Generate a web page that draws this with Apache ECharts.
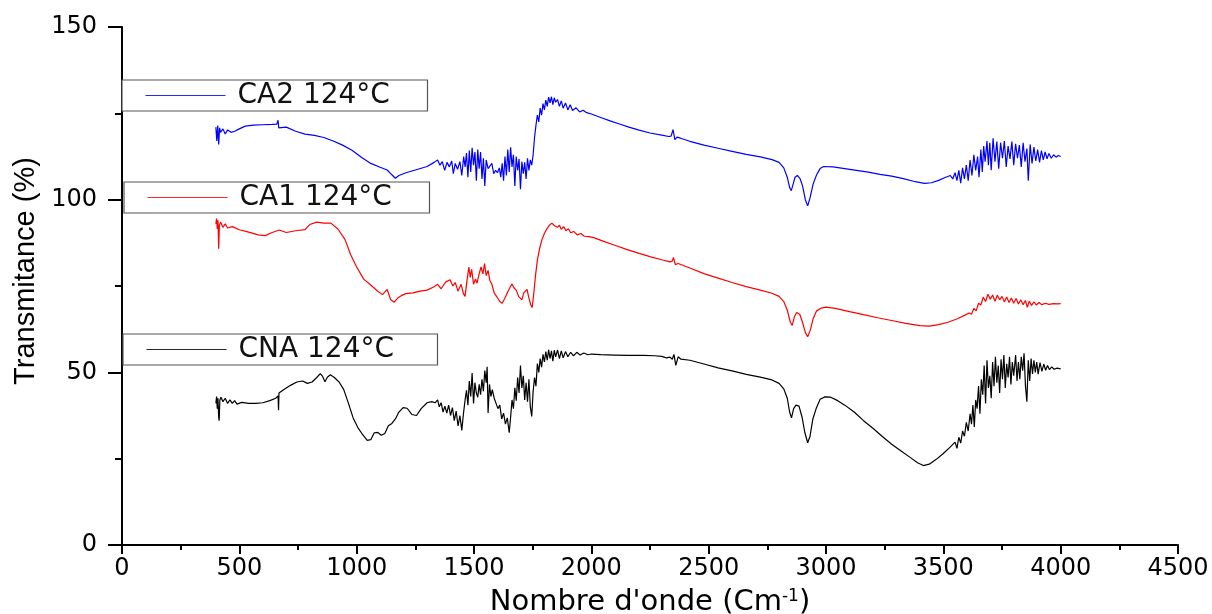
<!DOCTYPE html>
<html>
<head>
<meta charset="utf-8">
<script src="https://cdn.jsdelivr.net/npm/echarts@6/dist/echarts.min.js"></script>
<style>
html,body{margin:0;padding:0;background:#fff;}
#chart{width:1212px;height:614px;}
</style>
</head>
<body>
<div id="chart"></div>
<script>
// ---- data (wavenumber cm-1, transmittance %) ----
const seriesNames = ['CA2 124°C', 'CA1 124°C', 'CNA 124°C'];
const xTicks = [0, 500, 1000, 1500, 2000, 2500, 3000, 3500, 4000, 4500];
const yTicks = [0, 50, 100, 150];

const ca2 = [[400,121],[404,117],[408,121.5],[412,116],[416,120.8],[420,119.5],[430,120.5],[440,119],[450,120.2],[465,119.5],[480,119.8],[500,120.5],[525,121.3],[560,121.6],[600,121.7],[640,121.8],[660,121.9],[665,123],[668,120.8],[700,121],[740,119.8],[780,119],[820,118.6],[860,118],[900,117],[940,115.8],[980,114.3],[1020,112.3],[1060,110.5],[1100,109.4],[1130,108.6],[1150,107.2],[1165,106.2],[1180,107],[1210,107.8],[1250,108.6],[1300,109.6],[1330,110.8],
[1345,111.5],[1355,110],[1365,111],[1375,108.5],[1385,110.8],[1395,109.5],[1405,111.2],[1412,107.5],[1420,110.5],[1430,108.8],[1440,111],[1448,107],[1456,112.5],[1462,109.5],[1468,113.5],[1474,106.5],[1480,114.2],[1486,108],[1492,115],[1498,110],[1504,113.8],[1510,105.5],[1516,114.5],[1522,109],[1528,113.8],[1534,106],[1540,112],[1546,104],[1552,111.5],[1560,109],[1568,108.5],[1576,110.5],[1584,107.5],[1592,108.5],[1600,107.8],[1608,109.2],[1614,106.5],[1620,110.5],[1626,105.5],[1632,112.5],[1638,107],[1644,114.5],[1650,108],[1656,115.2],[1662,109.5],[1668,113],[1674,104],[1680,112.5],[1686,108.5],[1692,111.8],[1698,103],[1704,111],[1710,107.5],[1716,110.8],[1722,106],[1728,112],[1734,108.5],[1740,111.5],[1746,110],[1752,113],
[1758,118],[1764,121.5],[1770,124.5],[1776,122.5],[1782,126.5],[1788,124.5],[1794,127.8],[1800,126],[1806,128.8],[1812,127],[1818,129.7],[1824,128],[1830,129.8],[1836,127.5],[1842,129.5],[1848,128.2],[1856,129],[1864,127],[1872,128.6],[1880,126.5],[1890,128],[1900,126],[1910,127.5],[1920,125.8],[1935,126.6],[1950,125.4],[1965,125.9],[1980,125.2],[2000,124.8],[2040,123.8],[2080,122.8],[2120,121.9],[2160,121],[2200,120.2],[2250,119.3],[2300,118.7],[2330,118.3],[2340,118.4],[2348,120.3],[2356,117.4],[2365,118.1],[2380,117.8],[2420,116.9],[2480,115.8],[2540,114.9],[2600,114],[2660,113.1],[2720,112.4],[2770,111.6],[2800,110.8],[2820,109.2],[2835,106.5],[2845,103.5],[2852,102.6],[2860,104.5],[2868,106.5],[2878,107],[2890,106],[2900,104],[2912,100],[2922,98.2],[2932,100.5],[2945,104.5],[2960,107.2],[2975,109],[2990,109.6],[3030,109.5],[3080,109],[3130,108.5],[3180,108],[3230,107.3],[3280,106.8],[3330,106.1],[3380,105.2],[3420,104.7],[3450,104.9],[3480,105.6],[3510,106.5],
[3530,107],[3540,106],[3550,107.8],[3558,105.5],[3566,108.5],[3574,104.8],[3582,109.2],[3590,106],[3598,110],[3606,105.5],[3614,111.5],[3622,107],[3630,113],[3638,108.5],[3646,112.5],[3652,106.5],[3660,114.5],[3666,108],[3672,115.5],[3678,111],[3686,117],[3692,110],[3698,116.5],[3704,108.5],[3712,117.8],[3720,111],[3728,116.8],[3736,109],[3744,116.5],[3752,112],[3760,117],[3768,109.5],[3776,115.5],[3784,111.8],[3792,116.8],[3800,110],[3808,116.2],[3816,112],[3824,115.8],[3832,109.5],[3840,116.5],[3848,111],[3856,114.8],[3862,105.5],[3870,116],[3878,110.5],[3886,115.2],[3894,111.2],[3902,114.5],[3910,110.8],[3918,114.2],[3926,111.5],[3934,113.8],[3942,111.8],[3950,113.4],[3960,112],[3970,113],[3980,112.3],[3990,112.8],[4000,112.5]];

const ca1 = [[400,93],[403,94.5],[406,91.5],[409,94],[412,85.8],[415,92.5],[420,93.5],[430,92],[440,93],[450,91.8],[470,92.2],[500,91.3],[540,90.6],[580,89.8],[610,89.6],[640,90.5],[670,91.2],[700,90.5],[740,91],[780,91.3],[800,92.8],[830,93.5],[860,93.2],[890,93.2],[920,91.5],[950,88.5],[975,84],[1000,80.5],[1030,77],[1060,75.3],[1090,73.5],[1110,72.5],[1130,74],[1145,71],[1160,70.3],[1175,71.5],[1190,72.2],[1210,72.8],[1240,73],[1270,73.5],[1300,73.8],[1330,74.8],[1345,75.5],[1360,74.2],[1380,76.2],[1398,76.8],[1410,75],[1420,76],[1432,73.5],[1445,75.5],[1455,72.8],[1462,72],[1470,76.5],[1478,80.5],[1484,77.5],[1490,79.8],[1498,75.5],[1506,77],[1513,75.8],[1522,78.5],[1530,80.5],[1538,78.5],[1545,81.5],[1552,78],[1560,79.5],[1568,76.5],[1576,75.5],[1586,73],[1598,71.8],[1610,70.5],[1620,70],[1632,71.5],[1645,73.5],[1655,74.8],[1662,75.6],[1670,74.5],[1680,73.8],[1690,72],[1696,72.5],[1704,71],[1712,73],[1720,72.5],[1726,74],[1734,71.5],[1742,69.5],[1748,68.8],[1755,73],[1762,78],[1770,82.5],[1780,86],[1790,88.5],[1800,90.2],[1810,91.5],[1820,92.5],[1832,93.2],[1840,92.6],[1848,93],[1856,92],[1864,92.6],[1872,91.4],[1882,92.2],[1892,91],[1902,91.6],[1912,90.4],[1925,90.8],[1940,89.8],[1955,90.2],[1970,89.4],[1990,89.3],[2010,89],[2050,88],[2100,86.8],[2150,85.6],[2200,84.5],[2250,83.5],[2300,82.6],[2335,82],[2345,82.2],[2350,83.3],[2358,81.2],[2370,81.5],[2420,80.2],[2480,78.6],[2540,77.3],[2600,76],[2660,74.8],[2720,73.8],[2770,72.9],[2800,72],[2820,70.5],[2835,68],[2848,64.5],[2856,63.6],[2865,66],[2875,67.3],[2888,66.8],[2900,64.5],[2912,61.5],[2922,60.3],[2932,62],[2945,65.5],[2960,67.8],[2980,68.6],[3000,68.9],[3040,68.5],[3100,67.6],[3160,66.7],[3220,65.8],[3280,65],[3340,64.2],[3400,63.5],[3440,63.4],[3480,63.8],[3520,64.5],[3560,65.5],[3590,66.5],[3610,67.2],[3620,66.8],[3630,68.5],[3640,67.8],[3650,70],[3660,69.5],[3670,71.8],[3680,70.5],[3690,72.6],[3700,71.2],[3710,72.4],[3720,70.6],[3730,72.3],[3740,71],[3750,72],[3760,70.4],[3770,71.8],[3780,70.2],[3790,71.5],[3800,70],[3810,71.4],[3820,69.8],[3830,71],[3840,69.6],[3850,70.8],[3858,68.8],[3866,70.6],[3876,69.4],[3886,70.4],[3896,69.5],[3908,70.2],[3920,69.6],[3935,70],[3950,69.7],[3970,69.9],[3985,69.8],[4000,69.9]];

const cna = [[400,41],[403,43],[406,39.5],[409,42.5],[412,37],[414,36],[417,42],[422,42.8],[430,41.5],[440,42.5],[450,41],[460,42],[470,41],[480,41.8],[490,40.8],[510,41.3],[540,41],[570,41],[600,41.2],[630,41.8],[655,42.5],[665,43.2],[667,39],[669,44],[690,45],[720,46.3],[745,47.2],[770,47.5],[790,46.8],[810,47.2],[830,48.5],[845,49.6],[855,48.8],[865,47.3],[875,48.6],[888,49.3],[905,48.5],[925,47.2],[945,45],[965,41],[985,36.8],[1005,34],[1025,32],[1045,30.3],[1060,30.5],[1075,32.5],[1090,32.6],[1105,31.8],[1120,32.3],[1135,34.5],[1150,35.2],[1165,36.5],[1180,38.5],[1198,39.8],[1215,39.6],[1235,37.8],[1255,37.5],[1275,39.5],[1300,41.2],[1320,41.5],[1335,41.2],[1345,42],[1352,40],[1360,41.2],[1368,38.5],[1376,40.2],[1384,38.2],[1392,40.5],[1400,37.5],[1408,39.8],[1416,36],[1424,38.8],[1432,34.5],[1440,37.5],[1448,33.2],[1455,38],[1462,42],[1468,44.8],[1474,40.5],[1480,47.5],[1486,43],[1492,49.8],[1498,41],[1504,47],[1510,44],[1516,42.8],[1522,46.5],[1528,43.5],[1534,48],[1540,44.5],[1546,50.5],[1552,47],[1556,51.6],[1560,38.2],[1566,46.5],[1572,43],[1578,45],[1586,42.5],[1594,41],[1602,39.5],[1610,40.5],[1618,36.5],[1626,38.2],[1634,35],[1642,36.8],[1650,32.5],[1656,37],[1662,42],[1668,39.5],[1674,45.5],[1680,41.8],[1686,48.5],[1692,44],[1698,52],[1704,45.5],[1710,49],[1716,42],[1722,47],[1728,41.5],[1734,48],[1740,40],[1746,37.2],[1752,44.5],[1758,48.5],[1764,46],[1770,52.5],[1776,50],[1782,54],[1788,51.5],[1794,55.2],[1800,53],[1806,56],[1812,53.5],[1818,56.5],[1824,54],[1830,56.2],[1836,53.2],[1842,56.4],[1848,54.5],[1856,56.5],[1864,54],[1872,56.2],[1880,54.2],[1890,56],[1900,54.5],[1912,55.8],[1924,54.8],[1938,55.8],[1952,55],[1968,55.6],[1985,55.1],[2000,55.3],[2040,55.1],[2100,55],[2160,54.9],[2220,54.9],[2270,54.8],[2300,54.6],[2320,54.2],[2335,54.4],[2345,53.8],[2352,55.2],[2360,52],[2370,54.5],[2382,53.8],[2420,53.5],[2480,52.4],[2540,51.3],[2600,50.4],[2660,49.4],[2720,48.6],[2770,47.8],[2800,46.8],[2820,45.2],[2835,42.5],[2845,38.5],[2853,36.8],[2862,39.5],[2872,40.5],[2885,40.2],[2898,37],[2910,32.5],[2922,29.6],[2932,31.5],[2944,36.5],[2958,39.5],[2975,42.2],[2995,42.9],[3020,42.8],[3050,41.8],[3080,40.5],[3120,38.5],[3160,36],[3200,33.8],[3240,31.4],[3280,29.2],[3320,27.2],[3360,25.3],[3390,23.8],[3415,23],[3440,23.4],[3470,24.8],[3500,26.5],[3530,28.4],[3550,29.8],[3558,28],[3566,31.2],[3574,29.5],[3582,33],[3590,31.5],[3598,35.5],[3606,33],[3614,38],[3620,35],[3626,40.5],[3632,34.2],[3638,42],[3644,39.5],[3650,46],[3656,38],[3662,48],[3668,43.5],[3674,52],[3680,41],[3686,53.5],[3692,45.5],[3698,49],[3704,42.5],[3710,53],[3716,46],[3722,54.5],[3728,47],[3734,52],[3740,44],[3746,53.8],[3752,48],[3758,55],[3764,45.5],[3770,52.5],[3776,48.5],[3782,54.5],[3788,46.5],[3794,53],[3800,49],[3808,55],[3814,47.5],[3820,53],[3826,48],[3832,54.5],[3838,50.5],[3844,55.5],[3850,46],[3856,41.5],[3862,53.5],[3868,47.5],[3874,54],[3880,49.5],[3886,53.5],[3892,50],[3898,53],[3904,49.5],[3912,52.8],[3920,50.3],[3928,52.4],[3936,50.6],[3944,52],[3952,50.8],[3962,51.6],[3972,50.9],[3985,51.2],[4000,51]];

const seriesData = [ca2, ca1, cna];
const seriesColors = ['#0000ff', '#ff0000', '#000000'];

// ---- chart ----
const chart = echarts.init(document.getElementById('chart'), null, {renderer: 'canvas'});
const FONT = 'DejaVu Sans';

function legendBox(name, left, top, textWidth) {
  return {
    show: true,
    data: [name],
    left: left,
    top: top,
    orient: 'horizontal',
    padding: [1, 12, 1, 23],
    itemWidth: 80,
    itemHeight: 14,
    itemStyle: {opacity: 0},
    lineStyle: {width: 1, opacity: 0.85},
    borderColor: '#555',
    borderWidth: 1.2,
    backgroundColor: '#fff',
    selectedMode: false,
    textStyle: {fontFamily: FONT, fontSize: 28, color: '#111', lineHeight: 29, width: textWidth, padding: [0, 0, 0, 7]}
  };
}

const option = {
  animation: false,
  backgroundColor: '#fff',
  grid: {left: 122, right: 34, top: 27, bottom: 69, containLabel: false, outerBoundsMode: 'none'},
  legend: [
    legendBox(seriesNames[0], 122, 80, 178),
    legendBox(seriesNames[1], 124, 182, 178),
    legendBox(seriesNames[2], 123, 334, 187)
  ],
  xAxis: {
    type: 'value',
    min: xTicks[0],
    max: xTicks[xTicks.length - 1],
    interval: xTicks[1] - xTicks[0],
    name: "Nombre d'onde (Cm{sup|-1})",
    nameLocation: 'middle',
    nameGap: 43,
    nameTextStyle: {
      fontFamily: FONT, fontSize: 29, color: '#000',
      rich: {sup: {fontFamily: FONT, fontSize: 17, verticalAlign: 'top', lineHeight: 16, color: '#000'}}
    },
    axisLine: {show: true, onZero: false, lineStyle: {color: '#000', width: 2}},
    axisTick: {show: true, inside: false, length: 9, lineStyle: {color: '#000', width: 2}},
    minorTick: {show: true, splitNumber: 2, length: 5, lineStyle: {color: '#000', width: 2}},
    splitLine: {show: false},
    axisLabel: {fontFamily: FONT, fontSize: 24, color: '#000', margin: 12, formatter: v => String(v)}
  },
  yAxis: {
    type: 'value',
    min: yTicks[0],
    max: yTicks[yTicks.length - 1],
    interval: yTicks[1] - yTicks[0],
    name: 'Transmitance (%)',
    nameLocation: 'middle',
    nameGap: 77,
    nameRotate: 90,
    nameTextStyle: {fontFamily: 'Liberation Sans', fontSize: 29, color: '#000', padding: [0, 0, 0, 30]},
    axisLine: {show: true, onZero: false, lineStyle: {color: '#000', width: 2}},
    axisTick: {show: true, inside: false, length: 14, lineStyle: {color: '#000', width: 2}},
    minorTick: {show: true, splitNumber: 2, length: 7, lineStyle: {color: '#000', width: 2}},
    splitLine: {show: false},
    axisLabel: {fontFamily: FONT, fontSize: 24, color: '#000', margin: 25, formatter: v => String(v)}
  },
  series: seriesNames.map((n, i) => ({
    name: n,
    type: 'line',
    data: seriesData[i],
    showSymbol: false,
    symbol: 'none',
    smooth: false,
    sampling: null,
    color: seriesColors[i],
    lineStyle: {color: seriesColors[i], width: 1.2},
    itemStyle: {color: seriesColors[i]},
    emphasis: {disabled: true}
  }))
};
chart.setOption(option);
</script>
</body>
</html>
